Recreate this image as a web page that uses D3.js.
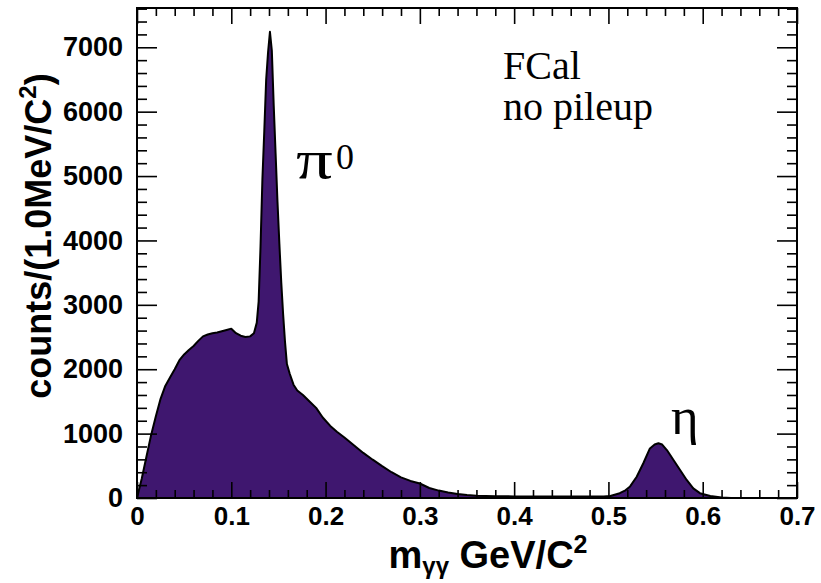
<!DOCTYPE html>
<html>
<head>
<meta charset="utf-8">
<script src="https://cdn.jsdelivr.net/npm/d3@7"></script>
<style>
  body { margin: 0; background: #fff; }
  svg { display: block; }
  .tick text { font-family: "Liberation Sans", Arial, sans-serif; font-weight: bold; fill: #000; }
  .tick line { stroke: #000; stroke-width: 1.6; }
</style>
</head>
<body>
<svg id="chart" width="821" height="583"></svg>
<script>
const massGeV = [
  0.000, 0.002, 0.005, 0.010, 0.015, 0.020, 0.025, 0.030, 0.035, 0.040,
  0.045, 0.050, 0.055, 0.060, 0.065, 0.070, 0.075, 0.080, 0.085, 0.090,
  0.095, 0.100, 0.105, 0.110, 0.115, 0.120, 0.124, 0.127, 0.129, 0.131,
  0.133, 0.135, 0.137, 0.139, 0.141, 0.143, 0.145, 0.147, 0.149, 0.151,
  0.153, 0.155, 0.157, 0.159, 0.162, 0.166, 0.170, 0.176, 0.183, 0.190,
  0.197, 0.205, 0.212, 0.220, 0.230, 0.240, 0.250, 0.260, 0.270, 0.280,
  0.290, 0.300, 0.310, 0.320, 0.330, 0.340, 0.350, 0.360, 0.380, 0.400,
  0.420, 0.440, 0.460, 0.480, 0.495, 0.502, 0.512, 0.518, 0.523, 0.530,
  0.537, 0.544, 0.549, 0.553, 0.557, 0.562, 0.569, 0.576, 0.583, 0.590,
  0.597, 0.608, 0.620, 0.630, 0.700
];
const counts = [
  0, 120, 300, 640, 980, 1270, 1540, 1740, 1870, 2000,
  2140, 2230, 2300, 2360, 2440, 2510, 2540, 2560, 2570, 2590,
  2610, 2630, 2560, 2520, 2500, 2510, 2560, 2720, 3050, 3900,
  4950, 5700, 6500, 6920, 7240, 6950, 6100, 5350, 4600, 3950,
  3350, 2850, 2420, 2080, 1930, 1760, 1670, 1600, 1500, 1400,
  1250, 1120, 1030, 940, 820, 700, 595, 495, 400, 320,
  265, 225, 155, 115, 85, 62, 45, 35, 28, 25,
  24, 24, 22, 22, 25, 32, 75, 120, 180, 330,
  540, 770, 830, 850, 830, 745, 590, 435, 280, 150,
  75, 31, 8, 0, 0
];

const xMajor = [0, 0.1, 0.2, 0.3, 0.4, 0.5, 0.6, 0.7];
const xLabels = ["0", "0.1", "0.2", "0.3", "0.4", "0.5", "0.6", "0.7"];
const yMajor = [0, 1000, 2000, 3000, 4000, 5000, 6000, 7000];
const yLabels = ["0", "1000", "2000", "3000", "4000", "5000", "6000", "7000"];

const padL = 137, padR = 797, padT = 8, padB = 498;
const svg = d3.select("#chart");

const x = d3.scaleLinear().domain([0, 0.7]).range([padL, padR]);
const y = d3.scaleLinear().domain([0, 7610]).range([padB, padT]);

const pts = massGeV.map((m, i) => [m, counts[i]]);

svg.append("path")
    .datum(pts)
    .attr("fill", "#3f176f")
    .attr("d", d3.area().x(d => x(d[0])).y0(padB).y1(d => y(d[1])));

svg.append("path")
    .datum(pts)
    .attr("fill", "none")
    .attr("stroke", "#000")
    .attr("stroke-width", 2)
    .attr("stroke-linejoin", "round")
    .attr("d", d3.line().x(d => x(d[0])).y(d => y(d[1])));

// minor tick positions
const xMinor = d3.range(0, 0.7001, 0.02).filter(v => Math.abs(v * 10 - Math.round(v * 10)) > 1e-6);
const yMinor = d3.range(0, 7601, 200).filter(v => v % 1000 !== 0);

function addAxis(axis, tx, ty) {
    const g = svg.append("g").attr("transform", `translate(${tx},${ty})`).call(axis);
    g.select(".domain").remove();
    return g;
}

// bottom
addAxis(d3.axisBottom(x).tickValues(xMajor).tickSize(-16).tickPadding(9)
    .tickFormat((d, i) => xLabels[i]), 0, padB)
    .selectAll("text").attr("font-size", 26);
addAxis(d3.axisBottom(x).tickValues(xMinor).tickSize(-8).tickFormat(""), 0, padB);
// top
addAxis(d3.axisTop(x).tickValues(xMajor).tickSize(-16).tickFormat(""), 0, padT);
addAxis(d3.axisTop(x).tickValues(xMinor).tickSize(-8).tickFormat(""), 0, padT);
// left
addAxis(d3.axisLeft(y).tickValues(yMajor).tickSize(-20).tickPadding(14)
    .tickFormat((d, i) => yLabels[i]), padL, 0)
    .selectAll("text").attr("font-size", 27);
addAxis(d3.axisLeft(y).tickValues(yMinor).tickSize(-10).tickFormat(""), padL, 0);
// right
addAxis(d3.axisRight(y).tickValues(yMajor).tickSize(-20).tickFormat(""), padR, 0);
addAxis(d3.axisRight(y).tickValues(yMinor).tickSize(-10).tickFormat(""), padR, 0);

svg.append("rect")
    .attr("x", padL).attr("y", padT)
    .attr("width", padR - padL).attr("height", padB - padT)
    .attr("fill", "none").attr("stroke", "#000").attr("stroke-width", 2);

// axis titles
const xt = svg.append("text")
    .attr("x", 488).attr("y", 568)
    .attr("text-anchor", "middle")
    .attr("font-family", "Liberation Sans, Arial, sans-serif")
    .attr("font-weight", "bold").attr("font-size", 38);
xt.append("tspan").text("m");
xt.append("tspan").attr("font-size", 24).attr("dy", 6).text("γγ");
xt.append("tspan").attr("dy", -6).text(" GeV/C");
xt.append("tspan").attr("font-size", 25).attr("dy", -15).text("2");

const yt = svg.append("text")
    .attr("transform", "translate(51,236) rotate(-90)")
    .attr("text-anchor", "middle")
    .attr("font-family", "Liberation Sans, Arial, sans-serif")
    .attr("font-weight", "bold").attr("font-size", 36);
yt.append("tspan").text("counts/(1.0MeV/C");
yt.append("tspan").attr("font-size", 24).attr("dy", -15).text("2");
yt.append("tspan").attr("dy", 15).text(")");

// labels
const serif = "Liberation Serif, Times New Roman, serif";
svg.append("text").attr("x", 503).attr("y", 79)
    .attr("font-family", serif).attr("font-size", 40).text("FCal");
svg.append("text").attr("x", 503).attr("y", 120)
    .attr("font-family", serif).attr("font-size", 40).text("no pileup");

svg.append("text")
    .attr("transform", "translate(296,178) scale(1.35,1)")
    .attr("font-family", serif).attr("font-size", 54).text("π");
svg.append("text").attr("x", 336).attr("y", 169)
    .attr("font-family", serif).attr("font-size", 36).text("0");

svg.append("text").attr("x", 671).attr("y", 434)
    .attr("font-family", serif).attr("font-size", 53).text("η");
</script>
</body>
</html>
